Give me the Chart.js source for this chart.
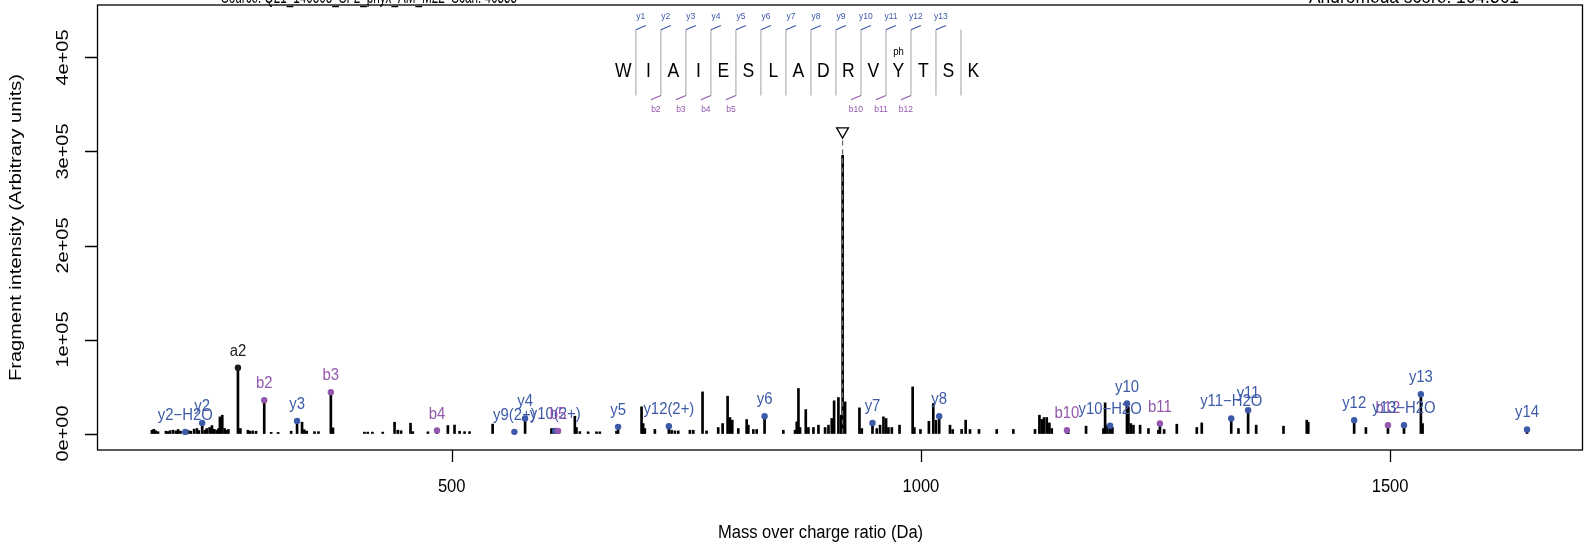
<!DOCTYPE html>
<html>
<head>
<meta charset="utf-8">
<script src="https://cdn.jsdelivr.net/npm/chart.js@4.4.1/dist/chart.umd.min.js"></script>
<style>
  html, body { margin: 0; padding: 0; background: #fff; }
  canvas { display: block; }
</style>
</head>
<body>
<canvas id="spectrum" width="1591" height="550"></canvas>
<script>
// ---- data ----
const peakMz = [180.5, 182.5, 184.5, 187, 195.5, 197.5, 199.8, 203, 206, 208.5, 211, 219.5, 222, 225.5, 228.5, 230.5,
  236.8, 239, 242, 244.5, 247, 249.5, 251.5, 253, 255.5, 258, 259.5, 262, 274.8, 282.8, 285, 288, 291.5, 307.6, 315,
  328.9, 340.5, 343, 345.5, 353.8, 358, 373.5, 407, 410.5, 415.5, 426.5, 439.1, 442.5, 446, 456.1, 458.5, 474.6,
  495.9, 503, 508.4, 513.7, 519, 543.6, 606.3, 608.8, 631.2, 632.9, 636.5, 645.4, 654.3, 657.8, 675.6, 702.3, 704,
  705.8, 716.5, 734.3, 737.8, 741.4, 753.8, 757.4, 767.3, 771.6, 784, 788.7, 794, 796.5, 799, 805.4, 814.3, 816.1,
  821.4, 825, 853.4, 865.9, 867.7, 869.5, 871.2, 877.3, 880.1, 885.5, 890.8, 897.9, 901.5, 905, 907.5, 912.1, 915,
  916.6, 919.2, 934.5, 937, 953, 956.5, 960.1, 962.9, 965.4, 969, 977.2, 991.2, 993, 999.5, 1008.5, 1013.2, 1016.1,
  1031, 1033.9, 1043.4, 1047.7, 1052.3, 1061.9, 1080.8, 1098.5, 1121.6, 1126.3, 1128.7, 1131.2, 1134.1, 1136.9,
  1139.4, 1157, 1176, 1194.5, 1196.3, 1198.8, 1204.1, 1221.1, 1223.6, 1226.5, 1233.6, 1242.5, 1253.1, 1259.2,
  1272.7, 1294, 1299.3, 1338.4, 1357.3, 1386.4, 1411.2, 1412.8, 1474.2, 1534.6];
const peakInt = [3500, 4500, 3000, 2000, 2500, 2000, 3000, 3500, 2800, 4300, 2500, 3000, 2500, 4600, 5300, 3200,
  3500, 5300, 6400, 8500, 4500, 3500, 5300, 17700, 19500, 5300, 3500, 4300, 5300, 3500, 2500, 2800, 2500, 1200, 1200,
  2500, 12000, 4000, 2500, 2000, 2000, 6000, 1500, 1500, 1500, 1500, 12000, 3500, 3000, 11000, 2000, 1800,
  8500, 9000, 2500, 2000, 2000, 10000, 5300, 5300, 18400, 6400, 2000, 1800, 1800, 1800, 2500, 28400, 10600,
  5300, 4300, 3500, 2800, 2800, 3500, 3500, 44300, 2800, 6400, 10600, 39700, 17000, 14200, 5300, 14900, 8900,
  4300, 4300, 3500, 3500, 12400, 47900, 6400, 25500, 6400, 6400, 8900, 6400, 8900, 16000, 34800, 38300, 19500,
  296000, 33700, 27300, 5300, 5300, 8900, 17700, 16000, 6400, 6400, 8900, 49600, 6400, 4300, 13000, 31900, 14200,
  8900, 4300, 4300, 14200, 4300, 4300, 4300, 4300, 4300, 19500, 15000, 17000, 17000, 11300,
  5300, 1800, 7800, 5300, 32600, 8900, 6400, 28400, 10600, 8900, 8900, 5300, 3500, 4300,
  9900, 6400, 11300, 5300, 8900, 7800, 14200, 12000, 6400, 10600];

const ionMz = [216.1, 234.1, 272.2, 300.2, 335.2, 371.2, 484.3, 566.8, 578.2, 610.3, 613.3, 677.3, 731.4, 833.4,
  948.4, 1019.5, 1155.6, 1201.6, 1219.6, 1254.7, 1330.7, 1348.7, 1461.7, 1497.7, 1514.8, 1532.8, 1645.9];
const ionInt = [1700, 11300, 69900, 35500, 13400, 44000, 3200, 1800, 16000, 2800, 2800, 7100, 7800, 18400,
  11300, 18400, 3500, 8200, 31900, 10600, 16000, 24800, 14200, 8900, 8900, 41800, 4300];
const ionLabels = ['y2\u2212H2O', 'y2', 'a2', 'b2', 'y3', 'b3', 'b4', 'y9(2+)', 'y4', 'y10(2+)', 'b5', 'y5', 'y12(2+)', 'y6',
  'y7', 'y8', 'b10', 'y10\u2212H2O', 'y10', 'b11', 'y11\u2212H2O', 'y11', 'y12', 'b12', 'y13\u2212H2O', 'y13', 'y14'];
const ionTypes = ['y', 'y', 'a', 'b', 'y', 'b', 'b', 'y', 'y', 'y', 'b', 'y', 'y', 'y',
  'y', 'y', 'b', 'y', 'y', 'b', 'y', 'y', 'y', 'b', 'y', 'y', 'y'];

const precursorMz = 916.5;
const precursorMark = 321500;

const peptide = ['W', 'I', 'A', 'I', 'E', 'S', 'L', 'A', 'D', 'R', 'V', 'Y', 'T', 'S', 'K'];
const yIonSites = [1, 2, 3, 4, 5, 6, 7, 8, 9, 10, 11, 12, 13];
const bIonSites = [2, 3, 4, 5, 10, 11, 12];
const modSite = 12;
const modLabel = 'ph';

const xTicks = [500, 1000, 1500];
const yTicks = [0, 100000, 200000, 300000, 400000];

const xTitle = 'Mass over charge ratio (Da)';
const yTitle = 'Fragment intensity (Arbitrary units)';
const sourceText = 'Source: Q21_140808_SF2_phyx_AM_M22  Scan: 46555';
const scoreText = 'Andromeda score: 164.561';

// ---- styling / layout ----
const FONT = '"Liberation Sans", Arial, Helvetica, sans-serif';
const ionColors = { y: '#3d5aa9', b: '#9357ad', a: '#1a1a1a' };
const seqStartMz = 682.9;   // sequence drawn in data units, like the R original
const seqStepMz = 26.65;
const seqLevel = 387000;

function drawText(ctx, s, x, y, size, opt) {
  opt = opt || {};
  ctx.save();
  ctx.font = size + 'px ' + FONT;
  ctx.fillStyle = opt.color || '#000';
  ctx.textAlign = opt.align || 'center';
  ctx.textBaseline = 'alphabetic';
  ctx.translate(x, y);
  if (opt.vertical) {
    ctx.rotate(-Math.PI / 2);
    ctx.scale(1, opt.squish || 1);
  } else {
    ctx.scale(opt.squish || 1, 1);
  }
  if (opt.fitWidth) {
    const w = ctx.measureText(s).width;
    ctx.scale(opt.fitWidth / w / (opt.squish || 1), 1);
  }
  ctx.fillText(s, 0, 0);
  ctx.restore();
}

function sci(v) {
  if (v === 0) return '0e+00';
  const parts = v.toExponential(0).split('e');
  return parts[0] + 'e' + parts[1][0] + parts[1].slice(1).padStart(2, '0');
}

// R style box, ticks and titles
const rAxes = {
  id: 'rAxes',
  afterDraw(chart) {
    const ctx = chart.ctx, ca = chart.chartArea;
    const xs = chart.scales.x, ys = chart.scales.y;
    ctx.save();
    ctx.strokeStyle = '#000';
    ctx.lineWidth = 1.3;
    ctx.strokeRect(ca.left + 0.5, ca.top, ca.right - ca.left, ca.bottom - ca.top);
    ctx.beginPath();
    xTicks.forEach(v => {
      const px = Math.round(xs.getPixelForValue(v)) + 0.5;
      ctx.moveTo(px, ca.bottom);
      ctx.lineTo(px, ca.bottom + 12);
    });
    yTicks.forEach(v => {
      const py = Math.round(ys.getPixelForValue(v)) + 0.5;
      ctx.moveTo(ca.left, py);
      ctx.lineTo(ca.left - 12, py);
    });
    ctx.stroke();
    ctx.restore();

    xTicks.forEach(v => drawText(ctx, String(v), xs.getPixelForValue(v), ca.bottom + 42, 18, { squish: 0.92 }));
    yTicks.forEach(v => drawText(ctx, sci(v), ca.left - 29, ys.getPixelForValue(v), 20, { vertical: true, squish: 0.83 }));
    drawText(ctx, xTitle, (ca.left + ca.right) / 2 - 19, ca.bottom + 88, 18, { squish: 0.92 });
    drawText(ctx, yTitle, 21, (ca.top + ca.bottom) / 2, 20, { vertical: true, squish: 0.83 });

    // header lines, mostly cut off by the top edge
    drawText(ctx, sourceText, 221, 3, 20, { align: 'left', squish: 0.83, fitWidth: 296 });
    drawText(ctx, scoreText, 1309, 3, 20, { align: 'left', squish: 0.83, fitWidth: 210 });
  }
};

// ion labels above the matched peaks
const ionText = {
  id: 'ionText',
  afterDatasetsDraw(chart) {
    const ctx = chart.ctx;
    const xs = chart.scales.x, ys = chart.scales.y;
    ionMz.forEach((mz, i) => {
      drawText(ctx, ionLabels[i], xs.getPixelForValue(mz), ys.getPixelForValue(ionInt[i]) - 12, 16,
        { color: ionColors[ionTypes[i]], squish: 0.93 });
    });
  }
};

// peptide sequence with fragment hooks
const sequence = {
  id: 'sequence',
  afterDraw(chart) {
    const ctx = chart.ctx;
    const xs = chart.scales.x, ys = chart.scales.y;
    const cy = ys.getPixelForValue(seqLevel);
    const lx = i => xs.getPixelForValue(seqStartMz + i * seqStepMz);
    const sx = k => (lx(k - 1) + lx(k)) / 2;   // separator after residue k
    const top = cy - 40, bot = cy + 25.7;

    ctx.save();
    ctx.strokeStyle = '#c4c4c4';
    ctx.lineWidth = 1.6;
    ctx.beginPath();
    for (let k = 1; k < peptide.length; k++) {
      ctx.moveTo(sx(k), top);
      ctx.lineTo(sx(k), bot);
    }
    ctx.stroke();

    ctx.lineWidth = 1.1;
    ctx.strokeStyle = ionColors.y;
    ctx.beginPath();
    yIonSites.forEach(k => { ctx.moveTo(sx(k), top); ctx.lineTo(sx(k) + 10, top - 4.3); });
    ctx.stroke();
    ctx.strokeStyle = ionColors.b;
    ctx.beginPath();
    bIonSites.forEach(k => { ctx.moveTo(sx(k), bot); ctx.lineTo(sx(k) - 10, bot + 4.3); });
    ctx.stroke();
    ctx.restore();

    peptide.forEach((aa, i) => drawText(ctx, aa, lx(i), cy + 6.9, 19.5, { squish: 0.9 }));
    yIonSites.forEach(k => drawText(ctx, 'y' + k, sx(k) + 5, top - 11, 8.5, { color: ionColors.y }));
    bIonSites.forEach(k => drawText(ctx, 'b' + k, sx(k) - 5, bot + 17, 8.5, { color: ionColors.b }));
    drawText(ctx, modLabel, lx(modSite - 1), cy - 15, 10, { squish: 0.95 });
  }
};

const stickData = peakMz.map((mz, i) => ({ x: mz, y: peakInt[i] }))
  .concat(ionMz.map((mz, i) => ({ x: mz, y: ionInt[i] })));

new Chart(document.getElementById('spectrum'), {
  type: 'scatter',
  data: {
    datasets: [
      {
        type: 'scatter',
        data: [{ x: precursorMz, y: precursorMark }],
        pointStyle: 'triangle',
        rotation: 180,
        pointRadius: 6.8,
        pointBackgroundColor: '#fff',
        pointBorderColor: '#000',
        pointBorderWidth: 1.3,
        order: 0
      },
      {
        type: 'scatter',
        data: ionMz.map((mz, i) => ({ x: mz, y: ionInt[i] })),
        pointRadius: 3.2,
        pointBorderWidth: 0,
        pointBackgroundColor: ionTypes.map(t => ionColors[t]),
        order: 1
      },
      {
        type: 'line',
        data: [{ x: precursorMz, y: 0 }, { x: precursorMz, y: precursorMark }],
        borderColor: '#6b6b6b',
        borderWidth: 1.3,
        borderDash: [5, 4],
        pointRadius: 0,
        order: 2
      },
      {
        type: 'bar',
        data: stickData,
        backgroundColor: '#000',
        borderWidth: 0,
        barThickness: 2,
        order: 3
      }
    ]
  },
  options: {
    responsive: false,
    animation: false,
    devicePixelRatio: 1,
    layout: { autoPadding: false, padding: { top: 5, right: 9, left: 0, bottom: 0 } },
    scales: {
      x: {
        type: 'linear', min: 122, max: 1704.5, offset: false,
        grid: { display: false }, border: { display: false }, ticks: { display: false },
        afterFit(s) { s.height = 100; }
      },
      y: {
        type: 'linear', min: -17530, max: 455830,
        grid: { display: false }, border: { display: false }, ticks: { display: false },
        afterFit(s) { s.width = 97; }
      }
    },
    plugins: { legend: { display: false }, tooltip: { enabled: false } }
  },
  plugins: [rAxes, ionText, sequence]
});
</script>
</body>
</html>
